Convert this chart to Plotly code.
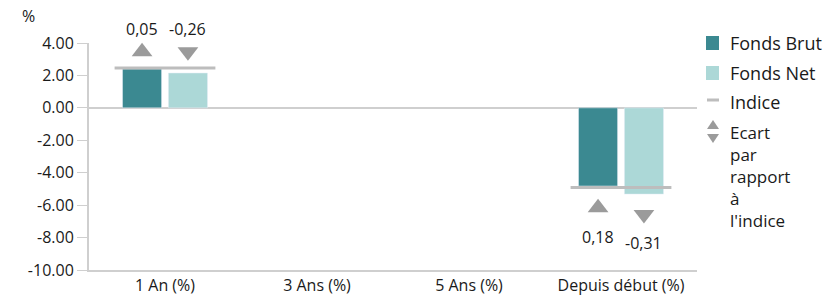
import plotly.graph_objects as go

categories = ["1 An (%)", "3 Ans (%)", "5 Ans (%)", "Depuis début (%)"]
fonds_brut = [2.40, None, None, -4.82]
fonds_net = [2.15, None, None, -5.32]
indice = [2.46, None, None, -4.91]
ecart_brut = ["0,05", None, None, "0,18"]
ecart_net = ["-0,26", None, None, "-0,31"]
y_ticks = [4, 2, 0, -2, -4, -6, -8, -10]
legend_labels = ["Fonds Brut", "Fonds Net", "Indice"]
ecart_label_lines = ["Ecart", "par", "rapport", "à", "l'indice"]

C_BRUT = "#3b8991"
C_NET = "#acd8d7"
C_IDX = "#bdbdbd"
C_TRI = "#9b9b9b"
C_TXT = "#1a1a1a"
FONT = "Open Sans"
OFF = 0.151

xs = list(range(len(categories)))
fig = go.Figure()
fig.add_bar(x=[x - OFF for x in xs], y=fonds_brut, width=0.257, marker_color=C_BRUT, name="Fonds Brut")
fig.add_bar(x=[x + OFF for x in xs], y=fonds_net, width=0.257, marker_color=C_NET, name="Fonds Net")
fig.add_scatter(x=xs, y=indice, mode="markers", name="Indice",
                marker=dict(symbol="line-ew-open", size=72, color=C_IDX,
                            line=dict(width=3, color=C_IDX)))

annotations = []
for i, x in enumerate(xs):
    if indice[i] is None:
        continue
    for vals, lab, off in [(fonds_brut, ecart_brut[i], -OFF), (fonds_net, ecart_net[i], OFF)]:
        if indice[i] >= 0:
            ty = max(vals[i], indice[i]) + 1.0
            shift = 23
        else:
            ty = min(vals[i], indice[i]) - 1.25
            shift = -29
        up = not lab.startswith("-")
        fig.add_scatter(x=[x + off], y=[ty], mode="markers", cliponaxis=False,
                        marker=dict(symbol="triangle-up" if up else "triangle-down",
                                    size=18, color=C_TRI, line=dict(width=0)))
        annotations.append(dict(x=x + off, y=ty, text=lab, showarrow=False, yshift=shift,
                                font=dict(size=16, color=C_TXT, family=FONT)))

def px(xp):
    return (xp - 89) / (697 - 89)
def py(yp):
    return (270 - yp) / (270 - 43)

annotations.append(dict(xref="paper", yref="paper", x=px(20), y=py(16), text="%", showarrow=False,
                        xanchor="left", yanchor="middle", font=dict(size=16, color=C_TXT, family=FONT)))

# manual legend
shapes = []
shapes.append(dict(type="rect", xref="paper", yref="paper", x0=px(706), x1=px(719), y0=py(50), y1=py(36),
                   fillcolor=C_BRUT, line=dict(width=0)))
shapes.append(dict(type="rect", xref="paper", yref="paper", x0=px(706), x1=px(719), y0=py(80), y1=py(66),
                   fillcolor=C_NET, line=dict(width=0)))
shapes.append(dict(type="line", xref="paper", yref="paper", x0=px(707), x1=px(719), y0=py(100), y1=py(100),
                   line=dict(color=C_IDX, width=3)))
shapes.append(dict(type="path", xref="paper", yref="paper",
                   path="M {} {} L {} {} L {} {} Z".format(px(707), py(129), px(719), py(129), px(713), py(120)),
                   fillcolor=C_TRI, line=dict(width=0)))
shapes.append(dict(type="path", xref="paper", yref="paper",
                   path="M {} {} L {} {} L {} {} Z".format(px(707), py(134), px(719), py(134), px(713), py(143)),
                   fillcolor=C_TRI, line=dict(width=0)))
for k, txt in enumerate(legend_labels):
    annotations.append(dict(xref="paper", yref="paper", x=px(728), y=py(43 + 29.5 * k), text=txt, showarrow=False,
                            xanchor="left", yanchor="middle", font=dict(size=18, color=C_TXT, family=FONT)))
annotations.append(dict(xref="paper", yref="paper", x=px(728), y=py(133 + 2 * 21.8), text="<br>".join(ecart_label_lines),
                        showarrow=False, xanchor="left", yanchor="middle", align="left",
                        font=dict(size=17, color=C_TXT, family=FONT)))

fig.update_layout(
    width=837, height=295,
    margin=dict(l=89, r=140, t=43, b=25),
    plot_bgcolor="white", paper_bgcolor="white",
    showlegend=False,
    annotations=annotations, shapes=shapes,
    font=dict(family=FONT, size=16, color=C_TXT),
)
fig.update_xaxes(range=[-0.5, 3.5], tickvals=xs, ticktext=categories, showgrid=False, automargin=False,
                 showline=True, linecolor="#cfcfcf", linewidth=2, ticks="", zeroline=False,
                 tickfont=dict(size=16, family=FONT))
fig.update_yaxes(range=[-10, 4], tickvals=y_ticks, ticktext=["%.2f" % v for v in y_ticks],
                 showgrid=False, showline=True, linecolor="#cfcfcf", linewidth=2, automargin=False,
                 ticks="outside", ticklen=10, tickcolor="#cfcfcf", tickwidth=1,
                 zeroline=True, zerolinecolor="#cfcfcf", zerolinewidth=2,
                 tickfont=dict(size=16, family=FONT))

fig.write_html("out.html", config={"displayModeBar": False},
               post_script="document.body.style.margin='0';")
